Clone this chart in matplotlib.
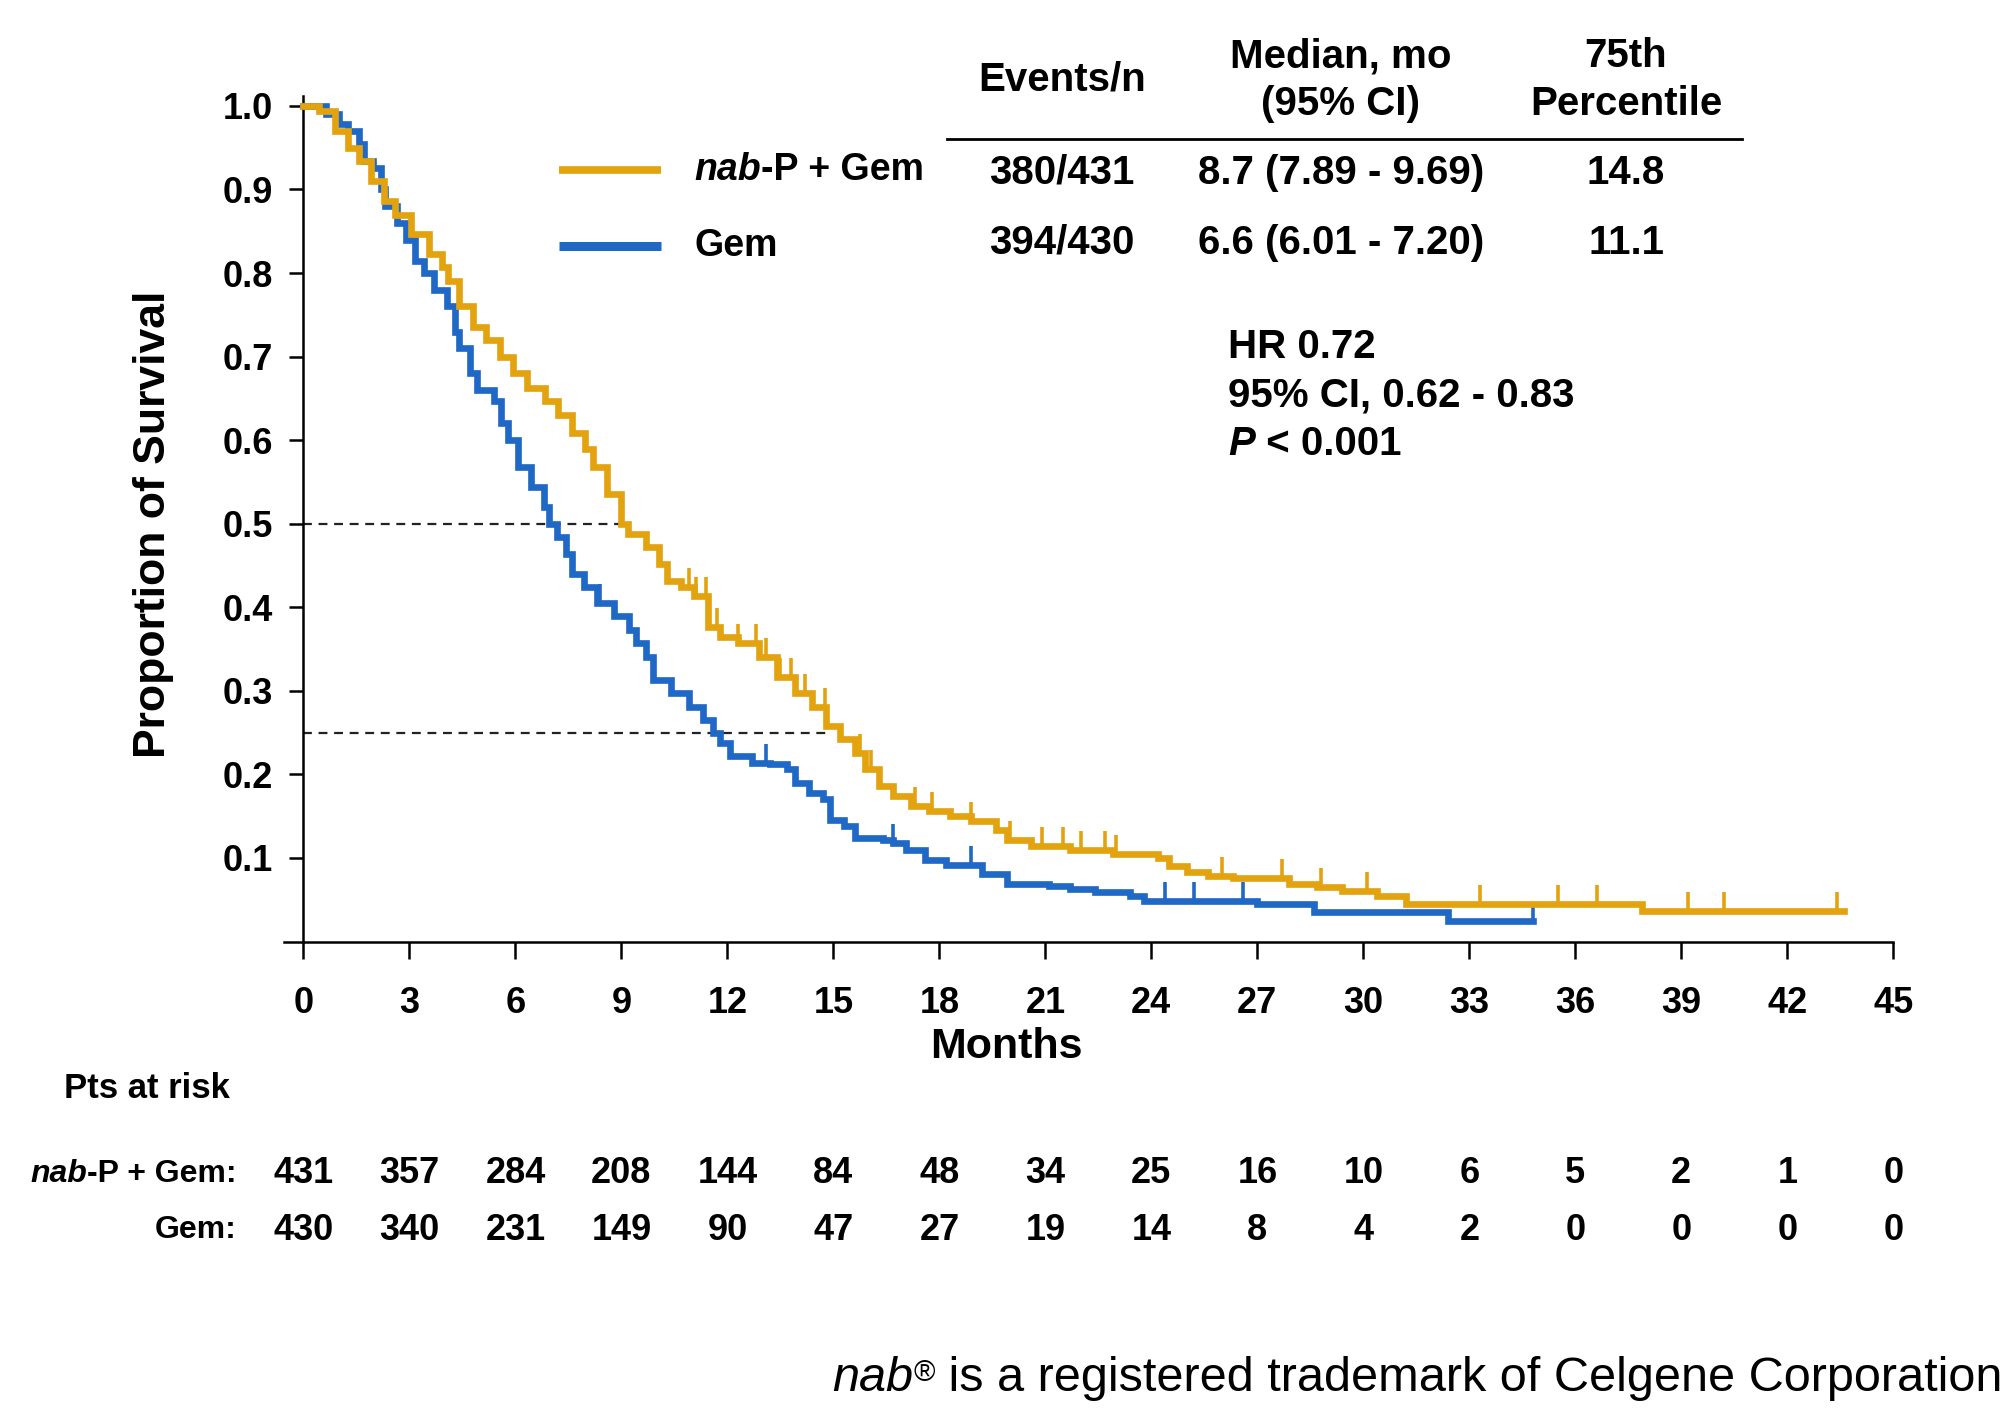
import matplotlib
matplotlib.use("Agg")
import matplotlib.pyplot as plt
from matplotlib.lines import Line2D
from matplotlib.transforms import blended_transform_factory
import numpy as np

plt.rcParams['font.family'] = ['Liberation Sans', 'DejaVu Sans']

# Kaplan-Meier curves (months, proportion surviving)
nab_t = [0, 0.44, 0.88, 1.26, 1.58, 1.9, 2.28, 2.6, 3.03, 3.54, 3.92, 4.1, 4.4, 4.8,
         5.18, 5.56, 5.94, 6.32, 6.83, 7.2, 7.6, 7.96, 8.2, 8.6, 8.98, 9.19, 9.69,
         10.06, 10.3, 10.7, 11.06, 11.44, 11.8, 12.3, 12.9, 13.4, 13.9, 14.4, 14.8,
         15.2, 15.6, 15.9, 16.3, 16.7, 17.2, 17.7, 18.3, 18.9, 19.6, 19.9, 20.6,
         21.7, 22.9, 24.2, 24.5, 25.0, 25.6, 26.3, 27.9, 28.7, 29.4, 30.4, 31.2,
         37.9, 43.6]
nab_s = [1.0, 0.994, 0.97, 0.95, 0.934, 0.91, 0.886, 0.87, 0.847, 0.823, 0.807, 0.79,
         0.76, 0.735, 0.72, 0.70, 0.68, 0.663, 0.647, 0.63, 0.608, 0.59, 0.568, 0.536,
         0.50, 0.488, 0.472, 0.452, 0.432, 0.424, 0.413, 0.377, 0.365, 0.357, 0.341,
         0.317, 0.297, 0.281, 0.258, 0.242, 0.226, 0.206, 0.186, 0.174, 0.162, 0.156,
         0.150, 0.144, 0.134, 0.122, 0.114, 0.110, 0.105, 0.100, 0.090, 0.083, 0.079,
         0.076, 0.069, 0.065, 0.061, 0.055, 0.045, 0.037, 0.037]
nab_cens = [10.9, 11.1, 11.4, 11.7, 12.3, 12.8, 13.1, 13.5, 13.8, 14.2, 14.75, 15.75,
            16.06, 17.3, 17.8, 18.9, 20.0, 20.9, 21.5, 22.0, 22.7, 23.0, 26.0, 27.7,
            28.8, 30.1, 33.3, 35.5, 36.6, 39.2, 40.2, 43.4]

gem_t = [0, 0.44, 0.63, 1.0, 1.26, 1.58, 1.7, 1.96, 2.2, 2.3, 2.65, 2.9, 3.16, 3.4,
         3.7, 4.05, 4.3, 4.4, 4.7, 4.9, 5.4, 5.6, 5.8, 6.07, 6.45, 6.8, 6.94, 7.19,
         7.44, 7.6, 7.94, 8.3, 8.8, 9.2, 9.4, 9.7, 9.9, 10.4, 10.9, 11.3, 11.6, 11.8,
         12.06, 12.7, 13.2, 13.7, 13.9, 14.3, 14.7, 14.9, 15.3, 15.6, 16.4, 16.7,
         17.06, 17.6, 18.2, 19.2, 19.9, 21.1, 21.7, 22.4, 23.4, 23.8, 27.0, 28.6,
         32.4, 34.8]
gem_s = [1.0, 1.0, 0.99, 0.978, 0.97, 0.954, 0.934, 0.926, 0.90, 0.88, 0.86, 0.84,
         0.815, 0.80, 0.78, 0.76, 0.73, 0.71, 0.68, 0.66, 0.647, 0.62, 0.60, 0.568,
         0.544, 0.52, 0.50, 0.484, 0.464, 0.44, 0.424, 0.405, 0.389, 0.373, 0.357,
         0.341, 0.313, 0.297, 0.281, 0.265, 0.25, 0.238, 0.222, 0.214, 0.212, 0.206,
         0.19, 0.178, 0.17, 0.146, 0.138, 0.124, 0.122, 0.118, 0.11, 0.097, 0.091,
         0.081, 0.069, 0.067, 0.063, 0.059, 0.055, 0.049, 0.045, 0.035, 0.024, 0.024]
gem_cens = [8.4, 13.1, 16.7, 18.9, 24.4, 25.2, 26.6, 34.8]

# reference lines: (survival level, month where the line stops)
ref_levels = [0.5, 0.25]
ref_ends = [9.0, 14.9]

# numbers at risk
risk_months = list(range(0, 46, 3))
nab_risk = [431, 357, 284, 208, 144, 84, 48, 34, 25, 16, 10, 6, 5, 2, 1, 0]
gem_risk = [430, 340, 231, 149, 90, 47, 27, 19, 14, 8, 4, 2, 0, 0, 0, 0]

# summary table
table_cols = ["Events/n", "Median, mo\n(95% CI)", "75th\nPercentile"]
nab_row = ["380/431", "8.7 (7.89 - 9.69)", "14.8"]
gem_row = ["394/430", "6.6 (6.01 - 7.20)", "11.1"]

orange = '#E3A30F'
blue = '#1F68C6'

fig = plt.figure(figsize=(20.06, 14.08), dpi=100)
ax = fig.add_axes([0.1416, 0.3313, 0.8022, 0.6006])


def fpos(xd, yd):
    # position in the 1568x1101 layout -> figure fraction
    return xd / 1568, 1 - yd / 1101


def step_value(t, s, x):
    i = np.searchsorted(t, x, side='right') - 1
    return np.asarray(s)[i]


for lvl, end in zip(ref_levels, ref_ends):
    ax.hlines(lvl, 0, end, colors='#222222', linestyles=(0, (4, 3)), lw=1.6, zorder=1)

tick_marker = [(0, 0), (0, 1)]
for t, s, cens, col in [(gem_t, gem_s, gem_cens, blue), (nab_t, nab_s, nab_cens, orange)]:
    ax.plot(t, s, drawstyle='steps-post', color=col, lw=4.8, zorder=3,
            solid_joinstyle='miter')
    ax.plot(cens, step_value(t, s, cens), ls='none', marker=tick_marker,
            markersize=28, markeredgewidth=2.6, color=col, zorder=3)

ax.set_xlim(-0.55, 45.0)
ax.set_ylim(0, 1.012)
for side in ['top', 'right']:
    ax.spines[side].set_visible(False)
ax.spines['left'].set_position(('data', 0))
ax.spines['left'].set_linewidth(1.8)
ax.spines['bottom'].set_linewidth(1.8)

ax.set_xticks(risk_months)
ax.set_yticks(np.round(np.arange(0.1, 1.01, 0.1), 1))
ax.set_yticklabels([f"{v:.1f}" for v in np.arange(0.1, 1.01, 0.1)])
ax.tick_params(axis='x', direction='out', length=12, width=1.8, pad=20, labelsize=26)
ax.tick_params(axis='y', direction='out', length=10, width=1.8, pad=12, labelsize=26)
for lab in ax.get_xticklabels() + ax.get_yticklabels():
    lab.set_fontweight('bold')

fig.text(*fpos(787, 819), "Months", ha='center', va='center', fontsize=31, fontweight='bold')
fig.text(*fpos(120, 410), "Proportion of Survival", ha='center', va='center',
         rotation=90, fontsize=32, fontweight='bold')

# legend
for yd, col, lw in [(133, orange, 5.5), (192, blue, 6.5)]:
    x0, y0 = fpos(437, yd)
    x1, _ = fpos(517, yd)
    fig.add_artist(Line2D([x0, x1], [y0, y0], transform=fig.transFigure, color=col,
                          lw=lw, solid_capstyle='butt'))
leg_nab = fig.text(*fpos(543, 133), "nab", ha='left', va='center', fontsize=27,
                   fontweight='bold', style='italic')
ax.annotate("-P + Gem", xy=(1, 0.5), xycoords=leg_nab, ha='left', va='center',
            fontsize=27, fontweight='bold')
fig.text(*fpos(543, 192), "Gem", ha='left', va='center', fontsize=27, fontweight='bold')

# summary table
col_x = [830, 1048, 1271]
for cx, head in zip(col_x, table_cols):
    lines = head.split("\n")
    if len(lines) == 1:
        fig.text(*fpos(cx, 62), lines[0], ha='center', va='center', fontsize=29,
                 fontweight='bold')
    else:
        fig.text(*fpos(cx, 44), lines[0], ha='center', va='center', fontsize=29,
                 fontweight='bold')
        fig.text(*fpos(cx, 81), lines[1], ha='center', va='center', fontsize=29,
                 fontweight='bold')
hx0, hy = fpos(740, 109)
hx1, _ = fpos(1362, 109)
fig.add_artist(Line2D([hx0, hx1], [hy, hy], transform=fig.transFigure, color='black', lw=2))
for yd, row in [(135, nab_row), (190, gem_row)]:
    for cx, val in zip(col_x, row):
        fig.text(*fpos(cx, yd), val, ha='center', va='center', fontsize=29,
                 fontweight='bold')

fig.text(*fpos(960, 271), "HR 0.72", ha='left', va='center', fontsize=29, fontweight='bold')
fig.text(*fpos(960, 309), "95% CI, 0.62 - 0.83", ha='left', va='center', fontsize=29,
         fontweight='bold')
p_lab = fig.text(*fpos(960, 347), "P", ha='left', va='center', fontsize=29,
                 fontweight='bold', style='italic')
ax.annotate(" < 0.001", xy=(1, 0.5), xycoords=p_lab, ha='left', va='center',
            fontsize=29, fontweight='bold')

# patients at risk
fig.text(*fpos(50, 851), "Pts at risk", ha='left', va='center', fontsize=25,
         fontweight='bold')
row_tr = blended_transform_factory(ax.transData, fig.transFigure)
for yd, counts, label in [(918, nab_risk, "-P + Gem:"), (962, gem_risk, "Gem:")]:
    lab = fig.text(*fpos(185, yd), label, ha='right', va='center', fontsize=23,
                   fontweight='bold')
    if label.startswith("-P"):
        ax.annotate("nab", xy=(0, 0.5), xycoords=lab, ha='right', va='center',
                    fontsize=23, fontweight='bold', style='italic')
    for m, n in zip(risk_months, counts):
        ax.text(m, fpos(0, yd)[1], str(n), transform=row_tr, ha='center', va='center',
                fontsize=26, fontweight='bold')

# footer
foot = fig.text(*fpos(1565, 1078), " is a registered trademark of Celgene Corporation",
                ha='right', va='center', fontsize=35)
reg = ax.annotate("\u00ae", xy=(0, 0.93), xycoords=foot, ha='right', va='top', fontsize=21)
ax.annotate("nab", xy=(0, 0.5), xycoords=(reg, foot), ha='right', va='center',
            fontsize=35, style='italic')

fig.savefig("out.png", dpi=100, facecolor='white')
